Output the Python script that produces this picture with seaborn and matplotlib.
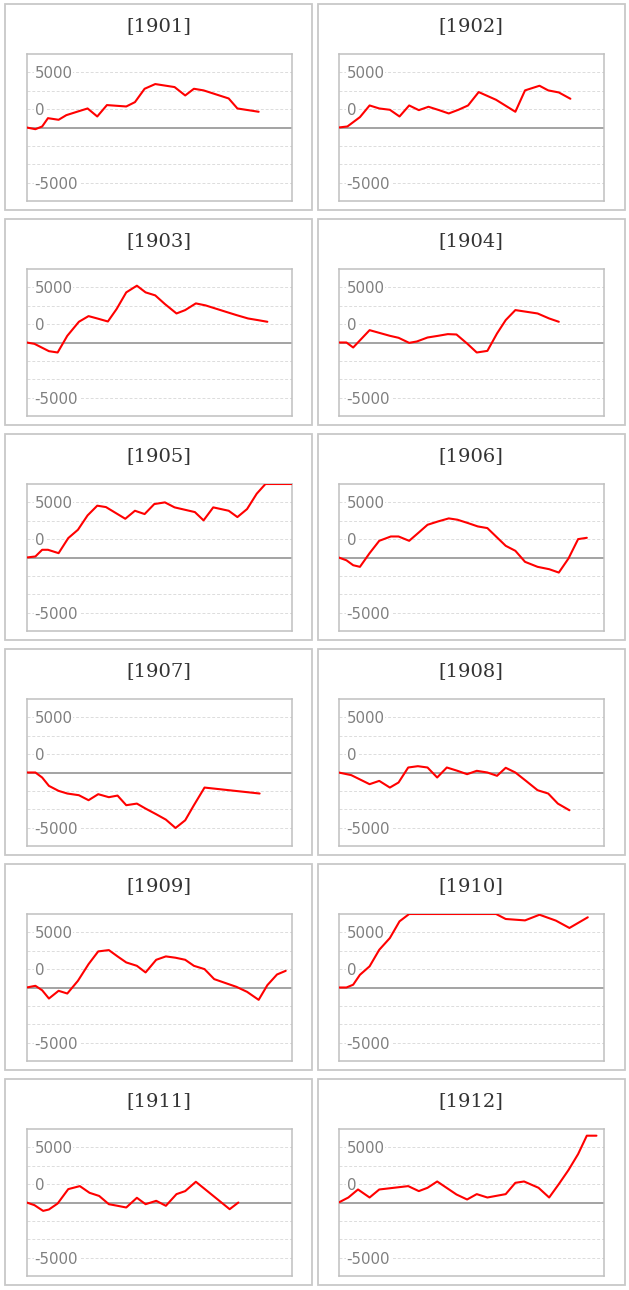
import numpy as np
import pandas as pd
import matplotlib
matplotlib.use("Agg")
import matplotlib.pyplot as plt
from matplotlib.patches import Rectangle
import seaborn as sns

# ---------------- data ----------------
years = ["1901", "1902", "1903", "1904", "1905", "1906",
         "1907", "1908", "1909", "1910", "1911", "1912"]

x_1901 = [0, 0.9, 1.6, 2.2, 3.3, 4.1, 5.3, 6.3, 7.3, 8.3, 10.3, 11.2, 12.2, 13.3, 15.3, 16.4, 17.3, 18.3, 20.9, 21.8, 24.0]
v_1901 = [0, -230, 140, 1270, 1050, 1680, 2180, 2590, 1500, 3050, 2860, 3450, 5270, 5910, 5500, 4360, 5270, 5050, 3950, 2590, 2140]

x_1902 = [0, 0.9, 2.2, 3.2, 4.2, 5.3, 6.3, 7.3, 8.3, 9.3, 10.4, 11.4, 12.4, 13.4, 14.5, 16.3, 18.3, 19.3, 20.8, 21.7, 22.8, 24.0]
v_1902 = [0, 140, 1410, 3000, 2590, 2410, 1500, 3000, 2360, 2820, 2360, 1910, 2410, 3000, 4820, 3770, 2140, 5050, 5680, 5050, 4770, 3910]

x_1903 = [0, 0.8, 2.3, 3.2, 4.2, 5.4, 6.4, 7.3, 8.4, 9.3, 10.3, 11.4, 12.3, 13.3, 14.3, 15.5, 16.4, 17.5, 18.5, 20.6, 21.7, 22.9, 23.9, 24.9]
v_1903 = [0, -180, -1180, -1360, 910, 2820, 3590, 3270, 2860, 4550, 6820, 7730, 6820, 6410, 5230, 3950, 4410, 5320, 5050, 4180, 3730, 3270, 3050, 2820]

x_1904 = [0, 0.8, 1.5, 3.2, 5.3, 6.2, 7.3, 8.1, 9.2, 10.3, 11.3, 12.2, 13.3, 14.3, 15.4, 16.4, 17.3, 18.3, 20.6, 21.8, 22.8]
v_1904 = [0, 0, -680, 1680, 910, 640, -50, 140, 680, 910, 1140, 1090, -140, -1360, -1140, 1230, 3050, 4410, 3950, 3270, 2820]

x_1905 = [0, 0.9, 1.6, 2.2, 3.3, 4.3, 5.3, 6.3, 7.3, 8.2, 10.2, 11.2, 12.2, 13.2, 14.3, 15.3, 17.4, 18.3, 19.3, 20.9, 21.8, 22.8, 23.8, 24.7, 25.8, 27.4]
v_1905 = [0, 140, 1050, 1050, 590, 2640, 3770, 5730, 7050, 6860, 5270, 6360, 5910, 7270, 7500, 6820, 6180, 5050, 6820, 6360, 5500, 6590, 8680, 10000, 10000, 10000]

x_1906 = [0, 0.8, 1.5, 2.2, 3.2, 4.2, 5.4, 6.2, 7.3, 8.3, 9.2, 10.3, 11.4, 12.3, 13.4, 14.4, 15.4, 16.4, 17.3, 18.3, 19.3, 20.6, 21.8, 22.8, 23.8, 24.8, 25.7]
v_1906 = [0, -380, -1050, -1270, 590, 2270, 2860, 2860, 2270, 3410, 4450, 4910, 5320, 5140, 4680, 4230, 4000, 2730, 1590, 910, -590, -1270, -1590, -2050, -140, 2500, 2680]

x_1907 = [0, 0.9, 1.6, 2.3, 3.3, 4.2, 5.4, 6.4, 7.4, 8.5, 9.4, 10.3, 11.4, 12.3, 13.4, 14.4, 15.4, 16.4, 17.3, 18.4, 24.1]
v_1907 = [0, 0, -680, -1820, -2500, -2860, -3090, -3770, -2950, -3360, -3140, -4450, -4230, -4910, -5680, -6410, -7550, -6500, -4450, -2050, -2860]

x_1908 = [0, 1.3, 3.2, 4.2, 5.3, 6.2, 7.2, 8.2, 9.2, 10.2, 11.2, 12.3, 13.3, 14.3, 15.4, 16.4, 17.3, 18.3, 19.4, 20.6, 21.7, 22.7, 23.9]
v_1908 = [0, -360, -1590, -1140, -2050, -1360, 680, 860, 680, -680, 680, 230, -230, 230, 0, -450, 640, 0, -1140, -2410, -2860, -4230, -5140]

x_1909 = [0, 0.9, 1.6, 2.3, 3.3, 4.2, 5.3, 6.4, 7.4, 8.5, 9.4, 10.3, 11.4, 12.3, 13.4, 14.4, 15.4, 16.4, 17.3, 18.4, 19.4, 20.6, 21.7, 22.8, 24.0, 24.9, 25.9, 26.8]
v_1909 = [0, 230, -380, -1500, -450, -820, 910, 3180, 4910, 5090, 4230, 3410, 2950, 2050, 3770, 4230, 4050, 3770, 2950, 2500, 1140, 590, 90, -590, -1680, 320, 1770, 2270]

x_1910 = [0, 0.8, 1.5, 2.2, 3.2, 4.2, 5.3, 6.3, 7.3, 16.3, 17.3, 19.3, 20.8, 22.5, 23.9, 25.8]
v_1910 = [0, 0, 380, 1730, 2880, 5130, 6730, 9000, 10000, 10000, 9320, 9130, 9900, 9100, 8100, 9550]

x_1911 = [0, 0.8, 1.7, 2.3, 3.2, 4.3, 5.5, 6.5, 7.5, 8.5, 9.4, 10.3, 11.4, 12.3, 13.4, 14.4, 15.5, 16.4, 17.5, 21.0, 21.9]
v_1911 = [0, -360, -1140, -950, -140, 1820, 2230, 1320, 890, -230, -450, -680, 640, -230, 230, -450, 1140, 1550, 2820, -910, 0]

x_1912 = [0, 1.0, 2.0, 3.2, 4.2, 7.2, 8.3, 9.2, 10.2, 12.2, 13.3, 14.3, 15.4, 17.3, 18.3, 19.2, 20.7, 21.8, 22.8, 23.8, 24.8, 25.7, 26.7]
v_1912 = [0, 680, 1770, 680, 1770, 2230, 1550, 2000, 2860, 1090, 410, 1140, 680, 1140, 2680, 2860, 2000, 680, 2500, 4410, 6590, 9090, 9090]

series_x = [x_1901, x_1902, x_1903, x_1904, x_1905, x_1906,
            x_1907, x_1908, x_1909, x_1910, x_1911, x_1912]
series_v = [v_1901, v_1902, v_1903, v_1904, v_1905, v_1906,
            v_1907, v_1908, v_1909, v_1910, v_1911, v_1912]

tick_labels = ["5000", "0", "-5000"]
tick_positions = [7500, 2500, -7500]
grid_values = [-7500, -5000, -2500, 2500, 5000, 7500]

# ---------------- layout ----------------
sns.set_style("white")
plt.rcParams["font.family"] = ["DejaVu Sans"]

W, H = 629, 1290
fig = plt.figure(figsize=(W / 100, H / 100), dpi=100)
fig.patch.set_facecolor("white")

box_x = [(5, 312), (318, 624.5)]
plot_x = [(26.7, 292.0), (338.7, 603.7)]
row_pitch = 215
row_top0 = 4

for i, year in enumerate(years):
    r, c = divmod(i, 2)
    top = row_top0 + r * row_pitch
    bx0, bx1 = box_x[c]
    # outer panel box
    fig.patches.append(Rectangle((bx0 / W, 1 - (top + 206) / H), (bx1 - bx0) / W, 206 / H,
                                 transform=fig.transFigure, fill=False,
                                 edgecolor="#c8c8c8", linewidth=1.3, zorder=0))
    # title
    fig.text((bx0 + bx1) / 2 / W, 1 - (top + 22) / H, f"[{year}]",
             ha="center", va="center", fontsize=14, color="#333333",
             family=["DejaVu Serif"])
    # plot area
    px0, px1 = plot_x[c]
    py0, py1 = top + 50, top + 197
    ax = fig.add_axes([px0 / W, 1 - py1 / H, (px1 - px0) / W, (py1 - py0) / H])
    ax.set_xlim(0, 27.45)
    ax.set_ylim(-10000, 10000)
    for v in grid_values:
        ax.axhline(v, color="#dcdcdc", lw=0.7, ls=(0, (3, 2)), zorder=1)
    ax.axhline(0, color="#8a8a8a", lw=1.1, zorder=2)
    for lab, pos in zip(tick_labels, tick_positions):
        ax.text(0.03, pos - 200, lab, transform=ax.get_yaxis_transform(),
                ha="left", va="center", fontsize=10.8, color="#808080",
                bbox=dict(facecolor="white", edgecolor="none", pad=0.3), zorder=3)
    df = pd.DataFrame({"x": series_x[i], "v": series_v[i]})
    sns.lineplot(data=df, x="x", y="v", color="#ff0000", linewidth=1.5,
                 estimator=None, sort=False, ax=ax, zorder=4)
    ax.set_xlabel("")
    ax.set_ylabel("")
    ax.set_xticks([])
    ax.set_yticks([])
    for s in ax.spines.values():
        s.set_color("#c0c0c0")
        s.set_linewidth(1.1)
        s.set_visible(True)

fig.savefig("out.png", dpi=100, facecolor="white")
